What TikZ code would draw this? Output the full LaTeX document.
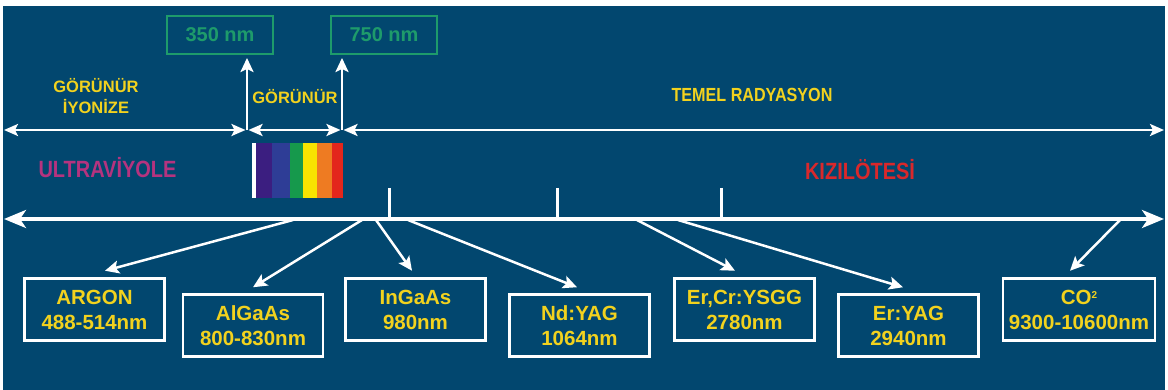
\documentclass[tikz,border=0pt]{standalone}
\usepackage{fontspec}
\setmainfont{Liberation Sans}
\newfontfamily\narrowsf[FakeStretch=0.85]{Liberation Sans}
\usepackage{xcolor}
\usetikzlibrary{arrows.meta, positioning, calc}
\definecolor{bgblue}{HTML}{02476F}
\definecolor{txtyellow}{HTML}{F2D21E}
\definecolor{tealgreen}{HTML}{1E9B6B}
\definecolor{uvpink}{HTML}{B5337F}
\definecolor{irred}{HTML}{D9282B}
\definecolor{spviolet}{HTML}{3B1E80}
\definecolor{spblue}{HTML}{2E3D96}
\definecolor{spgreen}{HTML}{16994C}
\definecolor{spyellow}{HTML}{F8E400}
\definecolor{sporange}{HTML}{EE7B22}
\definecolor{spred}{HTML}{E3261C}

\begin{document}
\begin{tikzpicture}[x=1pt, y=-1pt,
  laser/.style={draw=white, line width=2.5pt, text=txtyellow, align=center,
                minimum width=140pt, minimum height=62pt, inner sep=0pt,
                font=\bfseries\fontsize{20.5}{25}\selectfont},
  limit/.style={draw=tealgreen, line width=2pt, text=tealgreen, inner sep=0pt,
                minimum width=106pt, minimum height=38pt,
                font=\bfseries\fontsize{20}{24}\selectfont},
  lbl/.style={text=txtyellow, align=center, inner sep=0pt,
              font=\bfseries\fontsize{16.5}{21}\selectfont},
  band/.style={inner sep=0pt, font=\narrowsf\bfseries\fontsize{23.5}{26}\selectfont},
  ptr/.style={white, line width=2.5pt, -{Stealth[length=14pt, width=13pt, inset=3pt]}},
  span/.style={white, line width=2.5pt,
               {Stealth[length=14pt, width=12pt, inset=3pt]}-{Stealth[length=14pt, width=12pt, inset=3pt]}},
  mainaxis/.style={white, line width=3.5pt,
               {Stealth[length=22pt, width=18pt, inset=6pt]}-{Stealth[length=22pt, width=18pt, inset=6pt]}}
]
  \fill[white] (0,0) rectangle (1168,390);
  \fill[bgblue] (3,6) rectangle (1165,390);

  \node[limit] (b350) at (220,35) {350 nm};
  \node[limit] (b750) at (384,35) {750 nm};

  \node[lbl] (ion) at (96,96) {GÖRÜNÜR\\İYONİZE};
  \node[lbl] (vis) at (295,97) {GÖRÜNÜR};
  \node[lbl, font=\narrowsf\bfseries\fontsize{19}{22}\selectfont] (rad) at (752,95) {TEMEL RADYASYON};
  \node[band, text=uvpink] (uv) at (107.5,168) {ULTRAVİYOLE};
  \node[band, text=irred] (ir) at (860,170) {KIZILÖTESİ};

  \coordinate (tl) at (4,130);
  \coordinate (v1) at (247,130);
  \coordinate (v2) at (342,130);
  \coordinate (tr) at (1164,130);
  \draw[span, shorten >=1.5pt] (tl) -- (v1);
  \draw[span, shorten <=1.5pt, shorten >=1.5pt] (v1) -- (v2);
  \draw[span, shorten <=1.5pt] (v2) -- (tr);
  \draw[ptr, shorten >=3pt] (v1) -- (v1 |- b350.south);
  \draw[ptr, shorten >=3pt] (v2) -- (v2 |- b750.south);

  \fill[white] (252,143) rectangle (256,198);
  \foreach \c/\a/\b in {spviolet/256/272, spblue/272/290, spgreen/290/303,
                        spyellow/303/317, sporange/317/332, spred/332/343}
    \fill[\c] (\a,143) rectangle (\b,198);

  \foreach \x in {389,557,721}
    \draw[white, line width=3pt] (\x,188) -- (\x,219);
  \coordinate (axl) at (4,219);
  \coordinate (axr) at (1164,219);
  \draw[mainaxis] (axl) -- (axr);

  \node[laser] (argon) at (94.5,309.5) {ARGON\\488-514nm};
  \node[laser] (algaas) at (253,325.5) {AlGaAs\\800-830nm};
  \node[laser] (ingaas) at (415.5,309.5) {InGaAs\\980nm};
  \node[laser] (ndyag) at (579.5,325.5) {Nd:YAG\\1064nm};
  \node[laser] (ercr) at (744.5,309.5) {Er,Cr:YSGG\\2780nm};
  \node[laser] (eryag) at (908.5,325.5) {Er:YAG\\2940nm};
  \node[laser, minimum width=152pt] (co) at (1079,309.5)
       {CO\raisebox{6pt}{\fontsize{10}{10}\selectfont 2}\\9300-10600nm};

  \coordinate (s1) at (293,220);
  \coordinate (s2) at (362,220);
  \coordinate (s3) at (376,220);
  \coordinate (s4) at (408,220);
  \coordinate (s5) at (637,220);
  \coordinate (s6) at (678,220);
  \coordinate (s7) at (1120,220);
  \draw[ptr] (s1) -- ([xshift=10.5pt, yshift=6.5pt]argon.north);
  \draw[ptr] (s2) -- ([yshift=6pt]algaas.north);
  \draw[ptr] (s3) -- ([xshift=-3.5pt, yshift=6.5pt]ingaas.north);
  \draw[ptr] (s4) -- ([xshift=-2.5pt, yshift=6pt]ndyag.north);
  \draw[ptr] (s5) -- ([xshift=-9.5pt, yshift=6.5pt]ercr.north);
  \draw[ptr] (s6) -- ([xshift=-5.5pt, yshift=6pt]eryag.north);
  \draw[ptr] (s7) -- ([xshift=-9pt, yshift=6.5pt]co.north);
\end{tikzpicture}
\end{document}
